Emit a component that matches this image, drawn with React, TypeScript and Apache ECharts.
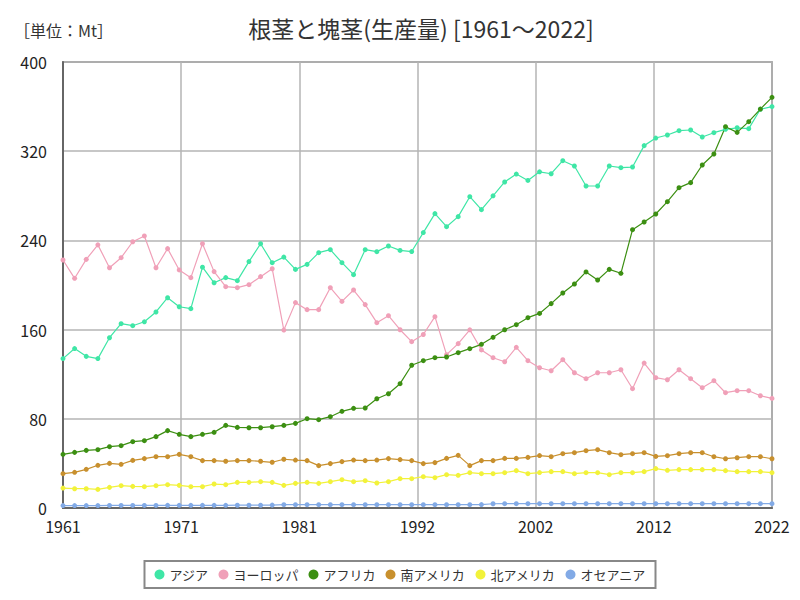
import React, { useEffect, useRef } from "react";
import * as echarts from "echarts";

const startYear = 1961;
const years: number[] = Array.from({ length: 62 }, (_, i) => startYear + i);

const seriesNames = ["アジア", "ヨーロッパ", "アフリカ", "南アメリカ", "北アメリカ", "オセアニア"];
const seriesColors = ["#3fe6a6", "#f0a0b8", "#3c8f12", "#c8902e", "#f2f23a", "#82aae6"];

const asia = [
  134, 143, 136, 134, 152.7, 165.3, 163.5, 167, 175.8, 188.6,
  180.5, 178.8, 216, 202, 206.6, 203.9, 221, 237, 220, 225,
  214, 218.5, 229, 231.7, 220, 209.3, 231.7, 229.9, 235, 231,
  230, 247, 264, 252.3, 261.3, 279.2, 267.6, 280, 292.4, 299.5,
  293.8, 301.5, 299.8, 311.5, 306.7, 288.8, 288.8, 306.7, 305.2, 305.8,
  325, 331.8, 334.5, 338.4, 339, 332.7, 336.6, 339.6, 341, 340.2,
  357.6, 360,
];
const europe = [
  222.4, 206, 223, 236, 215.5, 224.5, 238.8, 244, 215.5, 232.6,
  213.5, 206.6, 237, 212, 198.5, 197.6, 200.3, 207.5, 214.6, 159.6,
  184.2, 177.9, 177.9, 197.6, 185.3, 195.5, 182.4, 166.2, 172.5, 159.9,
  149.2, 155.6, 171.6, 137.5, 147.4, 159.8, 141.8, 134.8, 131.2, 144.1,
  132.1, 125.8, 123.1, 133, 121.3, 116, 121.3, 121.3, 124, 107,
  130, 116.9, 115, 124, 116, 107.9, 114.2, 103.4, 105.2, 105.2,
  100.7, 98.3,
];
const africa = [
  48.1, 49.9, 51.7, 52.3, 55, 55.9, 59.5, 60.4, 64, 69.4,
  66.1, 64, 66.1, 67.9, 74.1, 72.3, 72, 72, 72.9, 74.1,
  75.9, 80.1, 79.2, 81.9, 86.7, 89.4, 89.7, 98, 102.5, 111.5,
  128, 132.1, 134.8, 135.4, 139.3, 142.9, 146.8, 153.1, 159.9, 164.4,
  170.7, 174.5, 183.3, 192.8, 200.9, 211.7, 204.5, 214, 210.5, 249.6,
  256.5, 263.7, 274.7, 287.3, 291.8, 307.6, 317.5, 342, 336.9, 346.5,
  357.8, 368.3,
];
const southAmerica = [
  30.8, 32, 34.7, 38.3, 40, 39.2, 42.7, 44.3, 46, 46,
  48.1, 46, 42.5, 42.5, 41.9, 42.5, 42.5, 41.9, 41, 43.7,
  43, 42.5, 38, 39.8, 41.6, 43, 42.5, 43, 44.3, 43.4,
  42.5, 39.8, 40.7, 44.5, 47.2, 38, 42.5, 42.5, 44.5, 44.5,
  45.4, 47, 46, 48.7, 49.6, 51.4, 52.3, 49.6, 47.8, 48.7,
  49.6, 46.3, 46.9, 48.7, 49.6, 49.6, 46, 44.2, 45.1, 46,
  46, 44.2,
];
const northAmerica = [
  17.9, 17.3, 17.3, 16.7, 18.5, 20, 19.4, 19.1, 20, 20.9,
  20.3, 19.1, 19.1, 21.5, 20.9, 23, 23, 23.6, 23, 20.3,
  22.1, 23, 22.1, 23.6, 25.4, 23.6, 24.5, 22.4, 23.6, 26.3,
  26.3, 28.1, 27.2, 29.9, 29.3, 31.7, 30.8, 30.8, 31.7, 33.5,
  30.8, 31.8, 32.6, 32.6, 30.8, 31.7, 31.7, 29.9, 31.7, 31.7,
  32.6, 35.3, 33.8, 34.4, 34.4, 34.4, 34.4, 33.5, 32.6, 32.6,
  32.6, 31.7,
];
const oceania = [
  2.2, 2.2, 2.2, 2.2, 2.3, 2.3, 2.3, 2.3, 2.3, 2.4,
  2.4, 2.4, 2.4, 2.4, 2.4, 2.5, 2.5, 2.5, 2.6, 3.0,
  3.0, 3.0, 3.0, 3.0, 3.0, 3.0, 3.0, 3.0, 3.0, 3.0,
  3.0, 3.0, 3.0, 3.0, 3.0, 3.0, 3.1, 3.8, 3.9, 3.9,
  3.9, 3.9, 3.9, 3.9, 3.9, 3.9, 3.9, 3.9, 3.9, 3.9,
  3.9, 3.9, 3.9, 3.9, 3.9, 3.9, 3.9, 3.9, 3.9, 3.9,
  3.9, 3.9,
];
const seriesValues = [asia, europe, africa, southAmerica, northAmerica, oceania];

const titleText = "根茎と塊茎(生産量) [1961～2022]";
const unitText = "［単位：Mt］";
const yTicks = { min: 0, max: 400, interval: 80 };

// x scaled by 6 so the 6 equal splits of 1961..2022 land on integers
const X_SCALE = 6;

const FONT = "'Noto Sans CJK JP', 'Noto Sans', sans-serif";

export default function App() {
  const ref = useRef<HTMLDivElement>(null);
  useEffect(() => {
    if (!ref.current) return;
    const chart = echarts.init(ref.current, null, { renderer: "svg" });
    const span = (years[years.length - 1] - startYear) * X_SCALE;
    chart.setOption({
      animation: false,
      backgroundColor: "#ffffff",
      textStyle: { fontFamily: FONT },
      title: [
        {
          text: titleText,
          left: 416,
          top: 11,
          textAlign: "center",
          textStyle: { fontSize: 23, fontWeight: "normal", color: "#333", fontFamily: FONT },
        },
        {
          text: unitText,
          left: 9,
          top: 17,
          textStyle: { fontSize: 16, fontWeight: "normal", color: "#333", fontFamily: FONT },
        },
      ],
      legend: {
        data: seriesNames,
        bottom: 12,
        left: "center",
        icon: "circle",
        itemWidth: 10,
        itemHeight: 10,
        itemGap: 10,
        borderColor: "#888",
        borderWidth: 2,
        borderRadius: 0,
        padding: [7, 10],
        textStyle: { fontSize: 13, color: "#333", fontFamily: FONT },
      },
      grid: {
        left: 63,
        right: 28,
        top: 62,
        bottom: 92,
        show: true,
        borderColor: "#777",
        borderWidth: 1.5,
        containLabel: false,
      },
      xAxis: {
        type: "value",
        min: 0,
        max: span,
        interval: span / 6,
        axisLine: { show: true, lineStyle: { color: "#666", width: 2 } },
        axisTick: { show: false },
        splitLine: { show: true, lineStyle: { color: "#b4b4b4", width: 1.5 } },
        axisLabel: {
          fontSize: 16,
          color: "#222",
          margin: 10,
          formatter: (v: number) => String(Math.round(v / X_SCALE) + startYear),
        },
      },
      yAxis: {
        type: "value",
        min: yTicks.min,
        max: yTicks.max,
        interval: yTicks.interval,
        axisLine: { show: true, lineStyle: { color: "#666", width: 2 } },
        axisTick: { show: false },
        splitLine: { show: true, lineStyle: { color: "#b4b4b4", width: 1.5 } },
        axisLabel: { fontSize: 16, color: "#222", margin: 16 },
      },
      series: seriesNames.map((name, si) => ({
        name,
        type: "line",
        data: seriesValues[si].map((v, i) => [(years[i] - startYear) * X_SCALE, v]),
        color: seriesColors[si],
        symbol: "circle",
        symbolSize: 5,
        showSymbol: true,
        lineStyle: { width: 1.2, color: seriesColors[si] },
        itemStyle: { color: seriesColors[si] },
        emphasis: { disabled: true },
      })),
    });
    return () => chart.dispose();
  }, []);
  return (
    <div
      ref={ref}
      style={{ position: "absolute", left: 0, top: 0, width: 800, height: 600 }}
    />
  );
}
